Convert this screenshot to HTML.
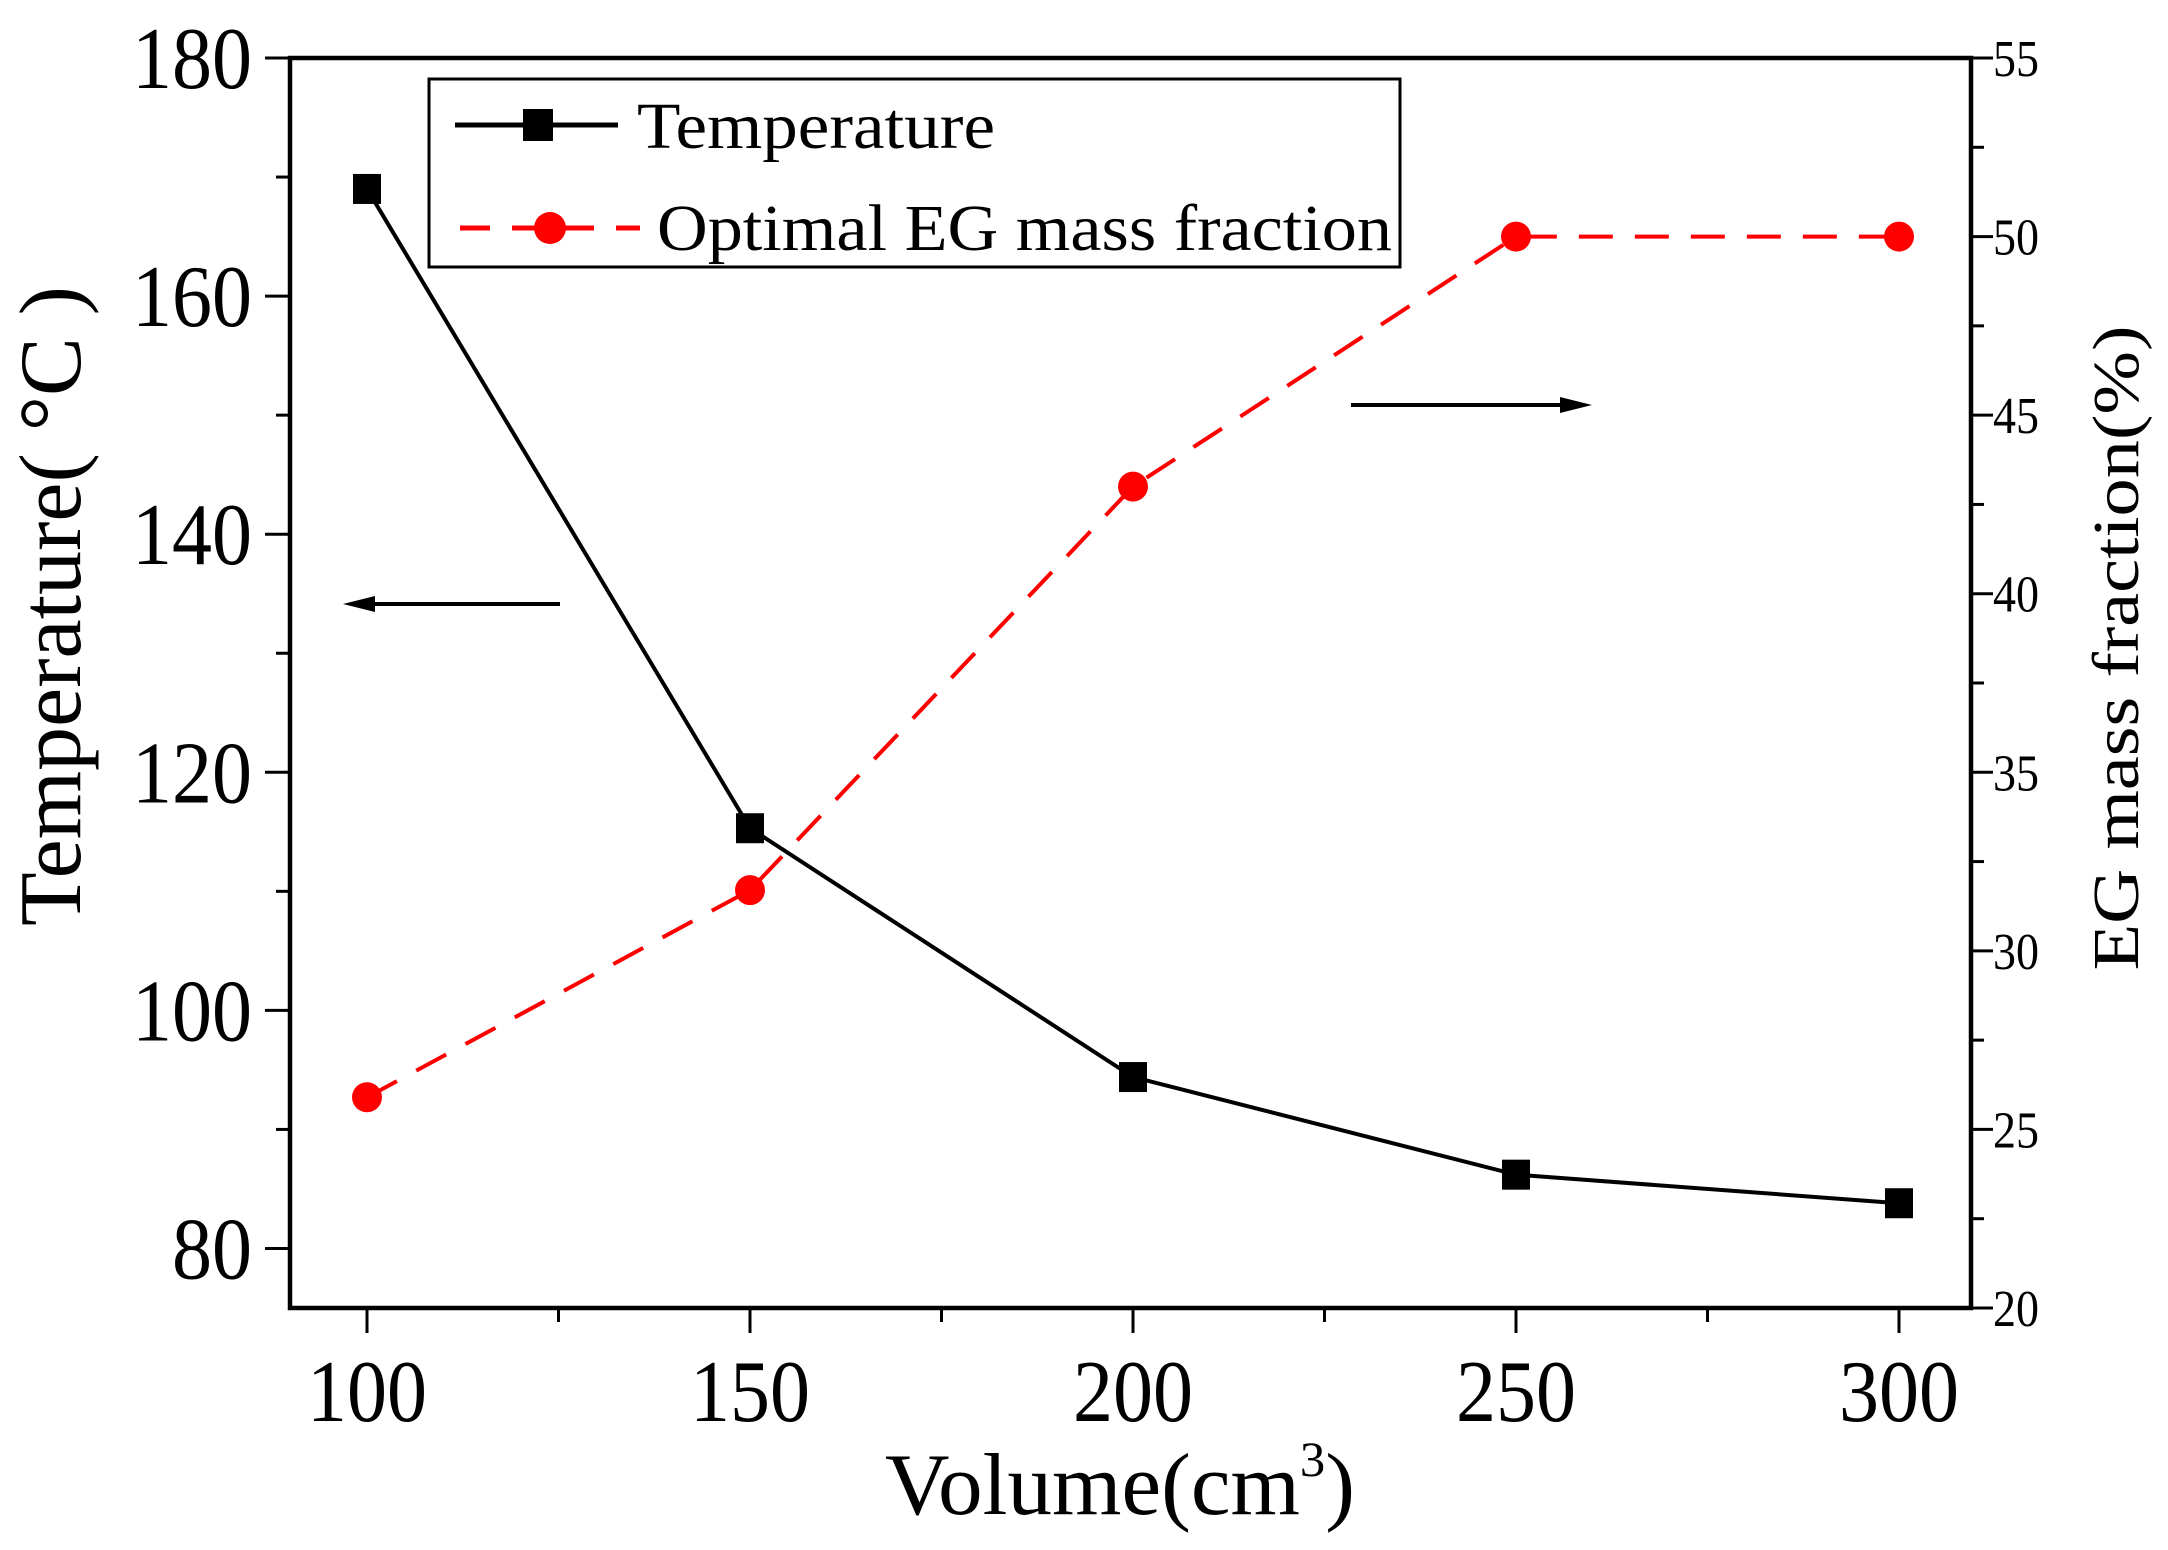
<!DOCTYPE html>
<html><head><meta charset="utf-8"><style>
html,body{margin:0;padding:0;background:#fff;}
svg{display:block;}
text{font-family:"Liberation Serif",serif;fill:#000;}
</style></head><body>
<svg id="chart" width="2168" height="1550">
<g id="axes"></g>
<g id="series"></g>
<g id="legend">
<rect x="429" y="79" width="971" height="188" fill="#fff" stroke="#000" stroke-width="3"/>
<g>
<line x1="455" y1="125" x2="618" y2="125" stroke="#000" stroke-width="5"/>
<rect x="523" y="109" width="30" height="32" fill="#000"/>
<text x="637" y="148" font-size="66" textLength="358" lengthAdjust="spacingAndGlyphs">Temperature</text>
</g>
<g>
<line x1="460" y1="228" x2="640" y2="228" stroke="#f00" stroke-width="5" stroke-dasharray="30,22"/>
<circle cx="550" cy="228" r="16" fill="#f00"/>
<text x="657" y="250" font-size="66" textLength="735" lengthAdjust="spacingAndGlyphs">Optimal EG mass fraction</text>
</g>
</g>
<g>
<line x1="560" y1="604" x2="360" y2="604" stroke="#000" stroke-width="4"/>
<polygon points="343,604 375,596 375,612" fill="#000"/>
</g>
<g>
<line x1="1351" y1="405" x2="1570" y2="405" stroke="#000" stroke-width="4"/>
<polygon points="1592,405 1560,397 1560,413" fill="#000"/>
</g>
<text x="1120" y="1514" font-size="88" text-anchor="middle" textLength="470" lengthAdjust="spacingAndGlyphs">Volume(cm<tspan font-size="50" dy="-38">3</tspan><tspan dy="38">)</tspan></text>
<text transform="translate(80,606) rotate(-90)" font-size="88" text-anchor="middle" textLength="640" lengthAdjust="spacingAndGlyphs">Temperature( °C )</text>
<text transform="translate(2138,648) rotate(-90)" font-size="66" text-anchor="middle" textLength="645" lengthAdjust="spacingAndGlyphs">EG mass fraction(%)</text>
</svg>
<script>
const categories=[100,150,200,250,300];
const temperature=[169,115.3,94.4,86.2,83.8];
const egFraction=[25.9,31.7,43,50,50];
const xTicks=[100,150,200,250,300];
const leftTicks=[80,100,120,140,160,180];
const rightTicks=[20,25,30,35,40,45,50,55];

const L=290,R=1971,T=58,B=1308;
const xs=v=>367+(v-100)*(1899-367)/200;
const yl=v=>B-(v-75)*(B-T)/105;
const yr=v=>B-(v-20)*(B-T)/35;
const NS='http://www.w3.org/2000/svg';
function mk(tag,attrs,parent){const e=document.createElementNS(NS,tag);for(const k in attrs)e.setAttribute(k,attrs[k]);parent.appendChild(e);return e;}
const ax=document.getElementById('axes');
const fr=mk('rect',{x:L,y:T,width:R-L,height:B-T,fill:'none',stroke:'#000','stroke-width':4.5},ax);


for(let v=100;v<=300;v+=25){
  const major=xTicks.includes(v);
  const t=mk('line',{x1:xs(v),x2:xs(v),y1:B,y2:B+(major?25:14),stroke:'#000','stroke-width':3},ax);
  
  
}
xTicks.forEach(v=>{const t=mk('text',{x:xs(v),y:B+113,'font-size':88,'text-anchor':'middle',textLength:120,lengthAdjust:'spacingAndGlyphs'},ax);t.textContent=v;
  
  });
for(let v=80;v<=180;v+=10){
  const major=leftTicks.includes(v);
  const t=mk('line',{x1:L,x2:L-(major?25:14),y1:yl(v),y2:yl(v),stroke:'#000','stroke-width':3},ax);
  
  
}
leftTicks.forEach(v=>{const s=String(v);const t=mk('text',{x:L-38,y:yl(v)+30,'font-size':88,'text-anchor':'end',textLength:s.length*40,lengthAdjust:'spacingAndGlyphs'},ax);t.textContent=s;
  
  });
for(let v=20;v<=55;v+=2.5){
  const major=rightTicks.includes(v);
  const t=mk('line',{x1:R,x2:R+(major?22:13),y1:yr(v),y2:yr(v),stroke:'#000','stroke-width':3},ax);
  
  
}
rightTicks.forEach(v=>{const t=mk('text',{x:R+22,y:yr(v)+18,'font-size':52,'text-anchor':'start',textLength:46,lengthAdjust:'spacingAndGlyphs'},ax);t.textContent=v;
  
  });

const sg=document.getElementById('series');
const tl=mk('polyline',{points:categories.map((c,i)=>xs(c)+','+yl(temperature[i])).join(' '),fill:'none',stroke:'#000','stroke-width':4},sg);


const el=mk('polyline',{points:categories.map((c,i)=>xs(c)+','+yr(egFraction[i])).join(' '),fill:'none',stroke:'#f00','stroke-width':4,'stroke-dasharray':'34,22'},sg);


categories.forEach((c,i)=>{
  const s=mk('rect',{x:xs(c)-14,y:yl(temperature[i])-15,width:28,height:30,fill:'#000'},sg);
  
  
  const p=mk('circle',{cx:xs(c),cy:yr(egFraction[i]),r:15,fill:'#f00'},sg);
  
  
});
</script>
</body></html>
